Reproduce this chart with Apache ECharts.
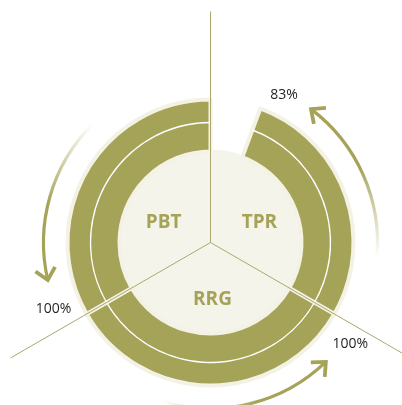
<!DOCTYPE html>
<html>
<head>
<meta charset="utf-8">
<script src="https://cdn.jsdelivr.net/npm/echarts@6/dist/echarts.min.js"></script>
<style>
  html, body { margin: 0; padding: 0; background: #ffffff; }
  #chart { width: 402px; height: 405px; }
</style>
</head>
<body>
<div id="chart"></div>
<script>
// Sectors, listed clockwise from the top
const categories = ['TPR', 'RRG', 'PBT'];
// Share of each sector's arc that is filled (percent)
const completion = [83, 100, 100];

const OLIVE = '#a5a358';
const CREAM = '#f5f4ea';
const HALO = '#f3f2e4';
const RULE = '#aaa86c';
const CX = 210.5, CY = 242.5;
const SECTOR_DEG = 360 / categories.length;
const RAD = Math.PI / 180;

// Outer ring: for each sector an empty part followed by the filled part
const ringData = [];
categories.forEach(function (name, i) {
  ringData.push({ name: name + ' rest', value: 100 - completion[i], itemStyle: { color: 'rgba(0,0,0,0)', borderWidth: 0 } });
  ringData.push({ name: name, value: completion[i], cat: i });
});
const ringLine = ringData.map(function (d) {
  return { name: d.name, value: d.value, itemStyle: { color: d.cat === undefined ? 'rgba(0,0,0,0)' : '#ffffff' } };
});

// Angle (degrees, counter-clockwise from 3 o'clock) where a sector's fill begins
function fillStartAngle(i) {
  const sectorStart = 90 - i * SECTOR_DEG;
  return sectorStart - (100 - completion[i]) / 100 * SECTOR_DEG;
}

// Percentage read-outs, set just past the leading edge of each fill
const pctNudge = [[-3, 3], [4, 1], [-2, -1]];
const pctText = completion.map(function (v, i) {
  const ang = (fillStartAngle(i) - 6.5) * RAD;
  const r = 169;
  return {
    type: 'text', silent: true, z: 20,
    x: CX + r * Math.cos(ang) + pctNudge[i][0], y: CY - r * Math.sin(ang) + pctNudge[i][1],
    style: {
      text: v + '%', fill: '#231f20', font: '14px "Open Sans"',
      align: 'center', verticalAlign: 'middle'
    }
  };
});

// Nudges that seat the sector names inside the disc
const nameNudge = [[6, 5], [2, 8], [-4, 5]];

function arrow(fromDeg, toDeg, r) {
  const p = function (deg, rr) { return [CX + rr * Math.cos(deg * RAD), CY - rr * Math.sin(deg * RAD)]; };
  const tail = p(fromDeg, r), tip = p(toDeg, r);
  const t = toDeg * RAD;
  // direction of travel (counter-clockwise) in screen space
  const dir = [-Math.sin(t), -Math.cos(t)];
  const back = [-dir[0], -dir[1]];
  const L = 15, a = 42 * RAD;
  const rot = function (v, ang) { return [v[0] * Math.cos(ang) - v[1] * Math.sin(ang), v[0] * Math.sin(ang) + v[1] * Math.cos(ang)]; };
  const b1 = rot(back, a), b2 = rot(back, -a);
  const grad = new echarts.graphic.LinearGradient(tail[0], tail[1], tip[0], tip[1], [
    { offset: 0, color: 'rgba(165,163,88,0)' },
    { offset: 0.55, color: OLIVE },
    { offset: 1, color: OLIVE }
  ], true);
  return [
    {
      type: 'arc', silent: true,
      shape: { cx: CX, cy: CY, r: r, startAngle: -fromDeg * RAD, endAngle: -toDeg * RAD, clockwise: false },
      style: { stroke: grad, lineWidth: 3.2, fill: null, lineCap: 'butt' }
    },
    {
      type: 'polyline', silent: true,
      shape: { points: [[tip[0] + b1[0] * L, tip[1] + b1[1] * L], tip, [tip[0] + b2[0] * L, tip[1] + b2[1] * L]] },
      style: { stroke: OLIVE, lineWidth: 3.8, fill: null, lineJoin: 'miter' }
    }
  ];
}

const chart = echarts.init(document.getElementById('chart'), null, { renderer: 'canvas' });

chart.setOption({
  animation: false,
  polar: { center: [CX, CY], radius: 231 },
  angleAxis: {
    type: 'value', min: 0, max: 360, interval: SECTOR_DEG, startAngle: 90, clockwise: true, z: 10,
    axisLine: { show: false }, axisTick: { show: false }, axisLabel: { show: false },
    splitLine: { show: true, lineStyle: { color: RULE, width: 1 } }
  },
  radiusAxis: { show: false, min: 0, max: 1 },
  graphic: [].concat(
    arrow(135, 193, 167),
    arrow(-5, 53, 167),
    arrow(-107, -46, 166),
    pctText
  ),
  series: [
    {
      // centre disc with the sector names
      type: 'pie', center: [CX, CY], radius: [0, 93], startAngle: 90, z: 1, silent: true,
      data: categories.map(function (c) { return { name: c, value: 1 }; }),
      itemStyle: { color: CREAM, borderWidth: 0 },
      label: {
        show: true, position: 'inside', formatter: '{b}',
        color: OLIVE, fontFamily: 'Open Sans', fontWeight: 'bold', fontSize: 19
      },
      labelLine: { show: false },
      labelLayout: function (params) {
        const n = nameNudge[params.dataIndex];
        return { dx: n[0], dy: n[1] };
      }
    },
    {
      // filled ring
      type: 'pie', center: [CX, CY], radius: [91, 143], startAngle: 90, z: 2, silent: true,
      data: ringData,
      itemStyle: { color: OLIVE, borderColor: HALO, borderWidth: 4 },
      label: { show: false }, labelLine: { show: false }
    },
    {
      // thin white rule running along the filled ring
      type: 'pie', center: [CX, CY], radius: [119.3, 120.7], startAngle: 90, z: 3, silent: true,
      data: ringLine,
      itemStyle: { borderWidth: 0 },
      label: { show: false }, labelLine: { show: false }
    }
  ]
});
</script>
</body>
</html>
